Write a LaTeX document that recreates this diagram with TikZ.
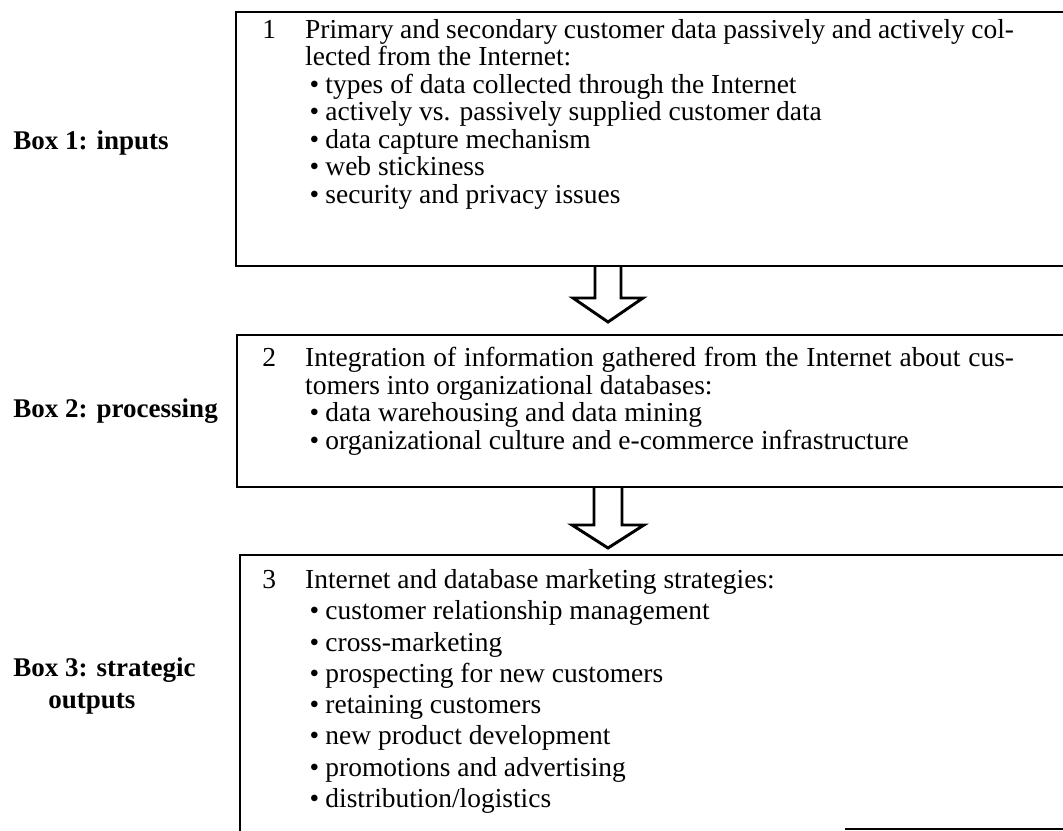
\documentclass[tikz,border=0pt]{standalone}
\usepackage{fontspec}
\setmainfont{Liberation Serif}
\usetikzlibrary{calc}
\tikzset{
	%Define style for the open box frames
	boxframe/.style={
		draw=black,
		line width=0.9pt},
	%Define style for the hollow block arrows
	blockarrow/.style={
		draw=black,
		line width=1.3pt,
		line join=miter},
	boxtext/.style={
		anchor=north west,
		inner sep=0pt,
		align=left,
		font=\fontsize{12.2}{12.2}\selectfont},
	boxlabel/.style={
		anchor=west,
		inner sep=0pt,
		align=left,
		font=\fontsize{12}{14.2}\selectfont\bfseries}
}
\newcommand\numtab[1]{\makebox[19pt][l]{#1}}
\newcommand\firstline[1]{\makebox[315pt][s]{#1}}
\newcommand\listdot{\hspace*{21pt}\makebox[7pt][l]{\textbullet}}

\begin{document}
\begin{tikzpicture}[x=0.4444pt, y=-0.4444pt]
	\useasboundingbox (0,0) rectangle (1063,831);
	% corners of the three boxes, open to the right
	\coordinate (in nw) at (236,12);
	\coordinate (in sw) at (236,266);
	\coordinate (proc nw) at (237,335);
	\coordinate (proc sw) at (237,487);
	\coordinate (out nw) at (240,555);
	\coordinate (out sw) at (240,831);
	\draw[boxframe] (1063,12) -- (in nw) -- (in sw) -- (1063,266);
	\draw[boxframe] (1063,335) -- (proc nw) -- (proc sw) -- (1063,487);
	\draw[boxframe] (1063,555) -- (out nw) -- (out sw);
	\draw[boxframe] (845,829) -- (1063,829);
	% block arrows between the boxes
	\coordinate (a1) at (608,266);
	\coordinate (a2) at (608,487);
	\draw[blockarrow] ($(a1)+(-13,0)$) -- ++(0,32) -- ++(-22,0) -- ($(a1)+(0,56)$)
		-- ($(a1)+(35,32)$) -- ++(-22,0) -- ++(0,-32);
	\draw[blockarrow] ($(a2)+(-14,0)$) -- ++(0,38) -- ++(-22,0) -- ($(a2)+(0,61)$)
		-- ($(a2)+(36,38)$) -- ++(-22,0) -- ++(0,-38);
	% box contents
	\node[boxtext] (inputs) at (262,19) {\numtab{1}\firstline{Primary and secondary customer data passively and actively col-}\\
		\hspace*{19pt}lected from the Internet:\\
		\listdot types of data collected through the Internet\\
		\listdot actively vs. passively supplied customer data\\
		\listdot data capture mechanism\\
		\listdot web stickiness\\
		\listdot security and privacy issues};
	\node[boxtext] (proc) at (262,347) {\numtab{2}\firstline{Integration of information gathered from the Internet about cus-}\\
		\hspace*{19pt}tomers into organizational databases:\\
		\listdot data warehousing and data mining\\
		\listdot organizational culture and e-commerce infrastructure};
	\node[boxtext, font=\fontsize{12.2}{13.9}\selectfont] (out) at (262,569) {\numtab{3}Internet and database marketing strategies:\\
		\listdot customer relationship management\\
		\listdot cross-marketing\\
		\listdot prospecting for new customers\\
		\listdot retaining customers\\
		\listdot new product development\\
		\listdot promotions and advertising\\
		\listdot distribution/logistics};
	% labels to the left
	\node[boxlabel] (lab1) at (13,143) {Box 1: inputs};
	\node[boxlabel] (lab2) at (13,411) {Box 2: processing};
	\node[boxlabel] (lab3) at (13,686) {Box 3: strategic\\ \hspace*{15.5pt}outputs};
\end{tikzpicture}
\end{document}
